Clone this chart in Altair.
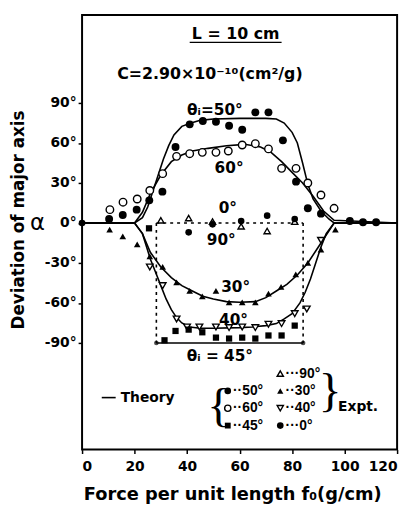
import altair as alt
import pandas as pd

# ---------------- data ----------------
# Theory curves (alpha vs f0)
th50_f = [0, 20, 23, 25, 27, 29, 31, 33, 35, 38, 41.5, 45, 50, 60, 70, 74, 77, 80, 82, 84, 86, 88, 91, 94, 96, 120]
th50_a = [0, 0, 4, 12, 24, 36, 48, 58, 66, 72.5, 75, 77, 78, 78.5, 78.5, 78, 75, 68, 60, 45, 29, 18, 9, 3, 0, 0]

th60_f = [0, 20, 23, 26, 30, 34, 38, 42, 48, 55, 62, 68, 72, 76, 80, 84, 88, 92, 96, 120]
th60_a = [0, 0, 8, 22, 36, 46, 51, 54, 56, 58, 59, 57, 53, 46, 38, 30, 20, 9, 2, 0]

th30_f = [0, 20, 23, 26, 30, 34, 38, 42, 46, 50, 55, 60, 66, 70, 74, 78, 82, 86, 90, 93, 96, 120]
th30_a = [0, 0, -8, -22, -33, -41, -47, -51, -55, -57, -59, -59.5, -59, -56, -51, -46, -39, -30, -18, -9, 0, 0]

th40_f = [0, 20, 23, 26, 28, 30, 32, 34, 36, 38, 41, 45, 50, 60, 65, 70, 74, 77, 80, 83, 85, 87, 89, 91, 93, 96, 120]
th40_a = [0, 0, -8, -27, -37, -47, -57, -65, -71, -75, -78, -79, -79, -78.5, -78, -77, -75.5, -72, -68, -60, -52, -42, -30, -18, -8, 0, 0]

# 45 deg theory: jump between the two threshold forces
th45_f = [28.3, 84.2]
th45_a = -90

# Experimental points
e50_f = [10.3, 15.5, 20.8, 25.6, 30.6, 35.6, 41, 46, 51, 56, 61, 66, 71, 76.5, 81.5, 86, 91, 102, 107, 112]
e50_a = [3, 6, 10, 17, 23.5, 57, 74, 76.5, 76, 73, 70, 83, 83, 62, 31, 11, 7, 1.5, 0.5, 0.5]

e60_f = [10.6, 15.6, 21, 25.8, 30.7, 36, 41, 45.8, 51, 55.7, 61, 66, 71, 76, 81.5, 86, 91, 96]
e60_a = [10, 15.6, 18, 24.4, 37, 50, 52, 53, 53, 54, 58.5, 59.5, 55.6, 41, 41, 30, 21, 11]

e45_f = [25.5, 31.4, 35.6, 40.6, 45.8, 51, 56, 61, 66, 71, 76, 81]
e45_a = [-4, -88, -81, -80, -82, -86, -86.7, -86, -86.7, -84.4, -84.4, -77]

e90_f = [30, 40.6, 49.7, 60.6, 70.5, 81]
e90_a = [2, 3.7, 1, -2.5, -6, 1]

e30_f = [10.5, 15.5, 21, 25.8, 30.7, 36, 41, 45.8, 51, 56, 61, 66, 71, 75.8, 81.4, 86, 91, 96.5]
e30_a = [-5, -10, -16, -25, -33, -44.6, -51, -55, -51, -59.5, -59.5, -59.5, -53, -48, -38.5, -30, -20, -5]

e40_f = [25.8, 30.7, 36, 40, 44.7, 51, 56, 61, 66, 71, 76, 81, 85.6, 91]
e40_a = [-33, -47, -72, -78, -78, -78, -78.5, -78, -78.5, -76, -75.5, -68, -64.5, -13]

e0_f = [0, 40.6, 49.7, 60.6, 70.5, 81]
e0_a = [0, -7, -1, 1.5, 5.5, 3]

x_ticks = [0, 20, 40, 60, 80, 100, 120]
y_ticks = [-90, -60, -30, 0, 30, 60, 90]

# ---------------- build tables ----------------
FONT = "DejaVu Sans"
LFONT = "Liberation Sans"
X_DOM = [0, 120]
Y_DOM = [-170, 156]

xs = alt.Scale(domain=X_DOM, nice=False, zero=False)
ys = alt.Scale(domain=Y_DOM, nice=False, zero=False)

rows = []
for name, fs, as_ in [("50", th50_f, th50_a), ("60", th60_f, th60_a),
                      ("30", th30_f, th30_a), ("40", th40_f, th40_a)]:
    for i, (f, a) in enumerate(zip(fs, as_)):
        rows.append({"curve": name, "i": i, "f": f, "a": a})
theory = pd.DataFrame(rows)

solid45 = pd.DataFrame({"curve": "45", "i": [0, 1], "f": th45_f, "a": [th45_a, th45_a]})
dashed = pd.DataFrame([
    {"seg": "zero", "i": 0, "f": th45_f[0], "a": 0},
    {"seg": "zero", "i": 1, "f": th45_f[1], "a": 0},
    {"seg": "left", "i": 0, "f": th45_f[0], "a": 0},
    {"seg": "left", "i": 1, "f": th45_f[0], "a": th45_a},
    {"seg": "right", "i": 0, "f": th45_f[1], "a": 0},
    {"seg": "right", "i": 1, "f": th45_f[1], "a": th45_a},
])
ends45 = pd.DataFrame({"f": th45_f, "a": [th45_a, th45_a]})

X = alt.X("f:Q", scale=xs, axis=alt.Axis(values=x_ticks, title="Force per unit length f₀(g/cm)",
                                        labelFont=FONT, labelFontSize=14, labelFontWeight="bold",
                                        titleFont=FONT, titleFontSize=18, titleFontWeight="bold",
                                        titleX=152, titleY=46, titleBaseline="middle",
                                        tickSize=4, tickWidth=1.5, tickColor="black",
                                        labelColor="black", titleColor="black",
                                        domain=False, grid=False, labelPadding=6))
Y = alt.Y("a:Q", scale=ys, axis=alt.Axis(values=y_ticks, title="Deviation of major axis",
                                        labelExpr="datum.value + '°'",
                                        labelFont=FONT, labelFontSize=14, labelFontWeight="bold",
                                        titleFont=FONT, titleFontSize=17, titleFontWeight="bold",
                                        titleX=-64, titleY=207, titleBaseline="middle", titleAngle=-90,
                                        tickSize=4, tickWidth=1.5, tickColor="black",
                                        labelColor="black", titleColor="black",
                                        domain=False, grid=False, labelPadding=2))

base_lines = alt.Chart(theory).mark_line(color="black", strokeWidth=1.6).encode(
    x=X, y=Y, detail="curve:N", order="i:Q")
line45 = alt.Chart(solid45).mark_line(color="black", strokeWidth=1.6).encode(
    x="f:Q", y="a:Q", order="i:Q")
dash = alt.Chart(dashed).mark_line(color="black", strokeWidth=1.6, strokeDash=[3, 4]).encode(
    x="f:Q", y="a:Q", detail="seg:N", order="i:Q")
ends = alt.Chart(ends45).mark_point(shape="circle", filled=True, color="black", size=22).encode(
    x="f:Q", y="a:Q")


def pts(fs, as_, shape, filled, size=55):
    df = pd.DataFrame({"f": fs, "a": as_})
    if filled:
        m = alt.Chart(df).mark_point(shape=shape, filled=True, color="black", size=size, opacity=1)
    else:
        m = alt.Chart(df).mark_point(shape=shape, filled=True, fill="white", stroke="black",
                                     strokeWidth=1.4, size=size, opacity=1)
    return m.encode(x="f:Q", y="a:Q")


series_layers = [
    pts(e60_f, e60_a, "circle", False, 58),
    pts(e50_f, e50_a, "circle", True, 64),
    pts(e90_f, e90_a, "triangle-up", False, 40),
    pts(e0_f, e0_a, "circle", True, 45),
    pts(e30_f, e30_a, "triangle-up", True, 45),
    pts(e40_f, e40_a, "triangle-down", False, 45),
    pts(e45_f, e45_a, "square", True, 40),
]

# ---------------- annotations (layout) ----------------
labels = pd.DataFrame([
    {"f": 58.5, "a": 141.5, "t": "L = 10 cm", "s": 16},
    {"f": 48.7, "a": 112, "t": "C=2.90×10⁻¹⁰(cm²/g)", "s": 16},
    {"f": 50.6, "a": 85, "t": "θᵢ=50°", "s": 15.5},
    {"f": 56, "a": 41, "t": "60°", "s": 15.5},
    {"f": 55.5, "a": 11, "t": "0°", "s": 15.5},
    {"f": 53, "a": -12.6, "t": "90°", "s": 15.5},
    {"f": 58.5, "a": -48, "t": "30°", "s": 15.5},
    {"f": 57.7, "a": -73, "t": "40°", "s": 15.5},
    {"f": 52.5, "a": -100, "t": "θᵢ = 45°", "s": 15.5},
])
lab = alt.Chart(labels).mark_text(font=FONT, fontWeight="bold", color="black", baseline="middle").encode(
    x="f:Q", y="a:Q", text="t:N", size=alt.Size("s:Q", scale=None, legend=None))

underline = alt.Chart(pd.DataFrame({"f": [41], "f2": [76], "a": [135.5]})).mark_rule(
    color="black", strokeWidth=1.5).encode(x="f:Q", x2="f2:Q", y="a:Q")

alpha = alt.Chart(pd.DataFrame({"f": [-17], "a": [0], "t": ["α"]})).mark_text(
    font=FONT, fontSize=23, color="black", baseline="middle").encode(x="f:Q", y="a:Q", text="t:N")

# legend
R0, R1, R2, R3 = -113, -126, -139, -152
C1, C2 = 55.5, 75.5
leg_text = pd.DataFrame([
    {"f": C1 + 2.0, "a": R1, "t": "··50°"},
    {"f": C1 + 2.0, "a": R2, "t": "··60°"},
    {"f": C1 + 2.0, "a": R3, "t": "··45°"},
    {"f": C2 + 2.0, "a": R0, "t": "···90°"},
    {"f": C2 + 2.0, "a": R1, "t": "··30°"},
    {"f": C2 + 2.0, "a": R2, "t": "··40°"},
    {"f": C2 + 2.0, "a": R3, "t": "···0°"},
])
legt = alt.Chart(leg_text).mark_text(font=LFONT, fontWeight="bold", fontSize=14, color="black",
                                     align="left", baseline="middle").encode(x="f:Q", y="a:Q", text="t:N")
leg_words = pd.DataFrame([
    {"f": 14.7, "a": -131, "t": "Theory"},
    {"f": 97.5, "a": -138, "t": "Expt."},
])
legw = alt.Chart(leg_words).mark_text(font=FONT, fontWeight="bold", fontSize=14, color="black",
                                      align="left", baseline="middle").encode(x="f:Q", y="a:Q", text="t:N")
braces = pd.DataFrame([
    {"f": 52.0, "a": -138, "t": "{"},
    {"f": 94.5, "a": -127, "t": "}"},
])
brc = alt.Chart(braces).mark_text(font="Liberation Serif", fontSize=48, color="black",
                                  baseline="middle").encode(x="f:Q", y="a:Q", text="t:N")
leg_line = alt.Chart(pd.DataFrame({"f": [7.5], "f2": [12.8], "a": [-131]})).mark_rule(
    color="black", strokeWidth=1.6).encode(x="f:Q", x2="f2:Q", y="a:Q")

leg_pts = [
    pts([C1], [R1], "circle", True, 45),
    pts([C1], [R2], "circle", False, 40),
    pts([C1], [R3], "square", True, 35),
    pts([C2], [R0], "triangle-up", False, 40),
    pts([C2], [R1], "triangle-up", True, 40),
    pts([C2], [R2], "triangle-down", False, 40),
    pts([C2], [R3], "circle", True, 45),
]

chart = alt.layer(
    base_lines, line45, dash, ends, *series_layers, lab, underline, alpha,
    legt, legw, brc, leg_line, *leg_pts
).properties(
    width=319, height=440,
    autosize=alt.AutoSizeParams(type="none"),
    padding={"left": 75, "top": 4, "right": 8, "bottom": 55},
).configure_view(stroke="black", strokeWidth=2)

chart.save("out.html", embed_options={"renderer": "svg", "actions": False})
